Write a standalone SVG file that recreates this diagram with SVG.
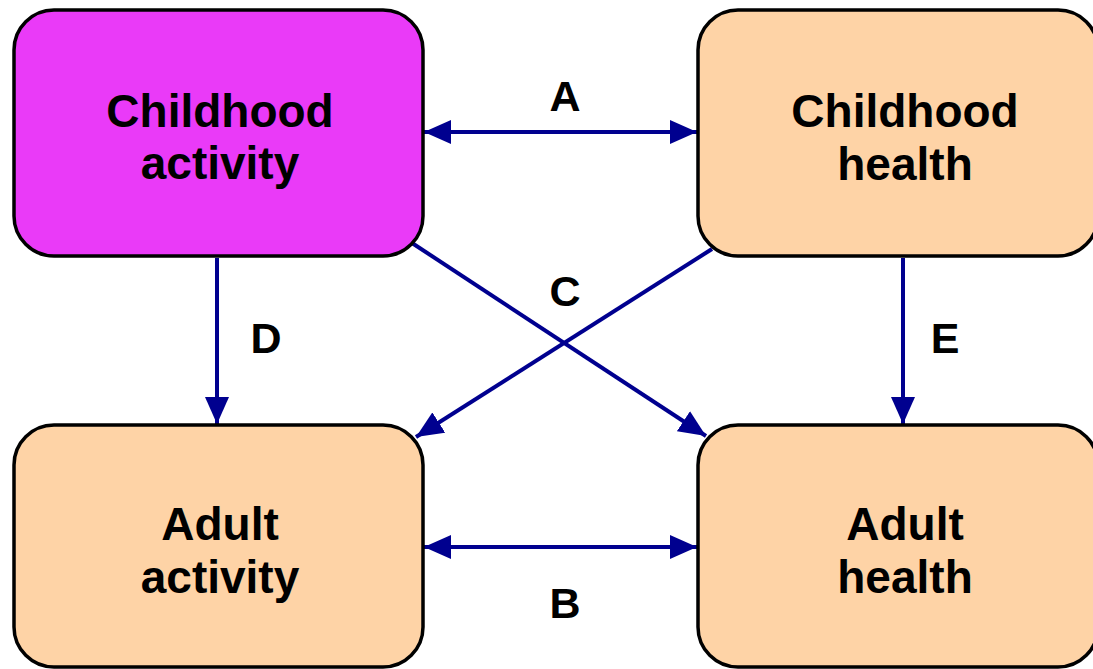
<svg xmlns="http://www.w3.org/2000/svg" width="1093" height="669" viewBox="0 0 1093 669">
<style>
.box{stroke:#000;stroke-width:3.5}
.peach{fill:#FED3A6}
.mag{fill:#EA3AF8}
.t{font-family:"Liberation Sans",Arial,sans-serif;font-weight:bold;font-size:46px;fill:#000;text-anchor:middle}
.lbl{font-family:"Liberation Sans",Arial,sans-serif;font-weight:bold;font-size:43px;fill:#000;text-anchor:middle}
.c{stroke:#00008F;stroke-width:4;fill:none}
</style>
<defs>
<marker id="ah" viewBox="0 0 27 24" refX="27" refY="12" markerWidth="27" markerHeight="24" markerUnits="userSpaceOnUse" orient="auto-start-reverse">
<path d="M0,0 L27,12 L0,24 Z" fill="#00008F"/>
</marker>
</defs>
<g id="connectors">
<line class="c" x1="424" y1="132" x2="697" y2="132" marker-start="url(#ah)" marker-end="url(#ah)"/>
<line class="c" x1="424" y1="547" x2="697" y2="547" marker-start="url(#ah)" marker-end="url(#ah)"/>
<line class="c" x1="217" y1="258" x2="217" y2="424" marker-end="url(#ah)"/>
<line class="c" x1="903" y1="258" x2="903" y2="424" marker-end="url(#ah)"/>
<line class="c" x1="412" y1="243" x2="706" y2="436" marker-end="url(#ah)"/>
<line class="c" x1="712" y1="249" x2="416" y2="437" marker-end="url(#ah)"/>
<text class="lbl" x="565" y="111">A</text>
<text class="lbl" x="565" y="306">C</text>
<text class="lbl" x="266" y="353">D</text>
<text class="lbl" x="945" y="353">E</text>
<text class="lbl" x="565" y="618">B</text>
</g>
<g id="n1">
<rect class="box mag" x="14" y="10" width="409" height="246" rx="40"/>
<text class="t" x="220" y="127">Childhood</text>
<text class="t" x="220" y="179">activity</text>
</g>
<g id="n2">
<rect class="box peach" x="698" y="10" width="400" height="246" rx="40"/>
<text class="t" x="905" y="127">Childhood</text>
<text class="t" x="905" y="180">health</text>
</g>
<g id="n3">
<rect class="box peach" x="14" y="425" width="409" height="242" rx="40"/>
<text class="t" x="220" y="540">Adult</text>
<text class="t" x="220" y="593">activity</text>
</g>
<g id="n4">
<rect class="box peach" x="698" y="425" width="400" height="242" rx="40"/>
<text class="t" x="905" y="540">Adult</text>
<text class="t" x="905" y="593">health</text>
</g>
</svg>
